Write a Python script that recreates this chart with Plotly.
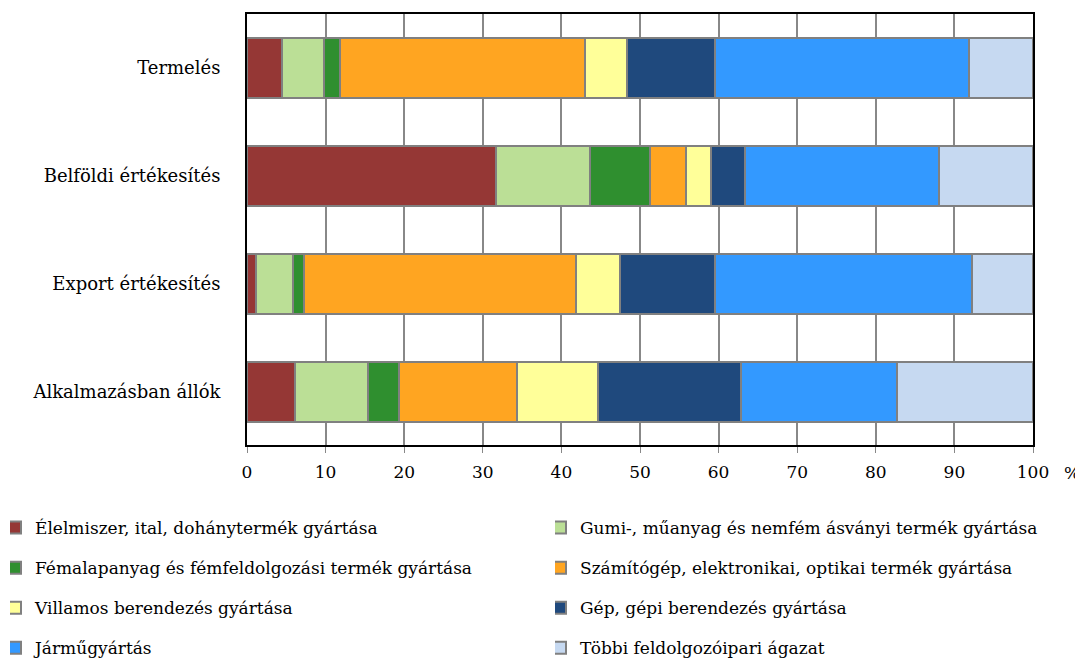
import plotly.graph_objects as go

categories = ["Termelés", "Belföldi értékesítés", "Export értékesítés", "Alkalmazásban állók"]

series_names = [
    "Élelmiszer, ital, dohánytermék gyártása",
    "Gumi-, műanyag és nemfém ásványi termék gyártása",
    "Fémalapanyag és fémfeldolgozási termék gyártása",
    "Számítógép, elektronikai, optikai termék gyártása",
    "Villamos berendezés gyártása",
    "Gép, gépi berendezés gyártása",
    "Járműgyártás",
    "Többi feldolgozóipari ágazat",
]

# values per series, in the order of categories
elelmiszer = [4.5, 31.7, 1.1, 6.1]
gumi = [5.3, 11.9, 4.7, 9.3]
fem = [2.0, 7.7, 1.4, 3.9]
szamitogep = [31.2, 4.5, 34.7, 15.0]
villamos = [5.3, 3.2, 5.6, 10.3]
gep = [11.2, 4.3, 12.1, 18.3]
jarmu = [32.3, 24.8, 32.7, 19.8]
tobbi = [8.2, 11.9, 7.7, 17.3]

series_values = [elelmiszer, gumi, fem, szamitogep, villamos, gep, jarmu, tobbi]
colors = ["#953735", "#BBDF96", "#2F8F2F", "#FFA521", "#FFFF99", "#1F497D", "#3399FF", "#C6D9F1"]

x_ticks = [0, 10, 20, 30, 40, 50, 60, 70, 80, 90, 100]

FONT = "DejaVu Serif"
FS_Y = 18
FS_X = 17
FS_L = 17

fig = go.Figure()
for i, (name, vals, col) in enumerate(zip(series_names, series_values, colors)):
    fig.add_trace(go.Bar(
        y=categories, x=vals, name=name, orientation="h",
        marker=dict(color=col, line=dict(color="#808080", width=2)),
        legend="legend" if i % 2 == 0 else "legend2",
        legendgroup=f"g{i}",
        hoverinfo="x+name",
    ))

# page is offset by the 8px body margin
OFF = 8
W, H = 1083 - OFF, 659 - OFF
ml, mr, mt, mb = 247 - OFF, 50, 14 - OFF, 214
pw = W - ml - mr
ph = H - mt - mb

def px_x(px):
    return (px - OFF - ml) / pw

def px_y(py):
    return (H - mb - (py - OFF)) / ph

def cx(px):
    return (px - OFF) / W

def cy(py):
    return 1 - (py - OFF) / H

legend_common = dict(
    orientation="v", xanchor="left", yanchor="top",
    xref="container", yref="container",
    font=dict(family=FONT, size=FS_L, color="#000000"),
    bgcolor="rgba(0,0,0,0)", borderwidth=0,
    tracegroupgap=15, traceorder="grouped",
    indentation=-15,
)

fig.update_layout(
    width=W, height=H,
    margin=dict(l=ml, r=mr, t=mt, b=mb, autoexpand=False),
    barmode="stack",
    bargap=1 - 60 / 108,
    plot_bgcolor="white",
    paper_bgcolor="white",
    font=dict(family=FONT, size=FS_X, color="#000000"),
    showlegend=True,
    legend=dict(x=cx(10), y=cy(510), **legend_common),
    legend2=dict(x=cx(555), y=cy(510), **legend_common),
    xaxis=dict(
        range=[0, 100], tickvals=x_ticks, ticktext=[str(t) for t in x_ticks],
        showgrid=True, gridcolor="#888888", gridwidth=2,
        showline=True, linecolor="#000000", linewidth=2, mirror=True,
        ticks="outside", ticklen=6, tickcolor="#888888", tickwidth=1,
        ticklabelstandoff=5,
        zeroline=False,
        tickfont=dict(family=FONT, size=FS_X),
    ),
    yaxis=dict(
        categoryorder="array", categoryarray=categories[::-1],
        range=[-0.49, 3.5],
        showgrid=False, showline=True, linecolor="#000000", linewidth=2, mirror=True,
        ticks="", ticklabelstandoff=21,
        tickfont=dict(family=FONT, size=FS_Y),
    ),
    annotations=[dict(
        text="%", xref="paper", yref="paper", x=px_x(1072), y=px_y(473),
        xanchor="center", yanchor="middle", showarrow=False,
        font=dict(family=FONT, size=FS_X),
    )],
)

fig.write_html("out.html")
